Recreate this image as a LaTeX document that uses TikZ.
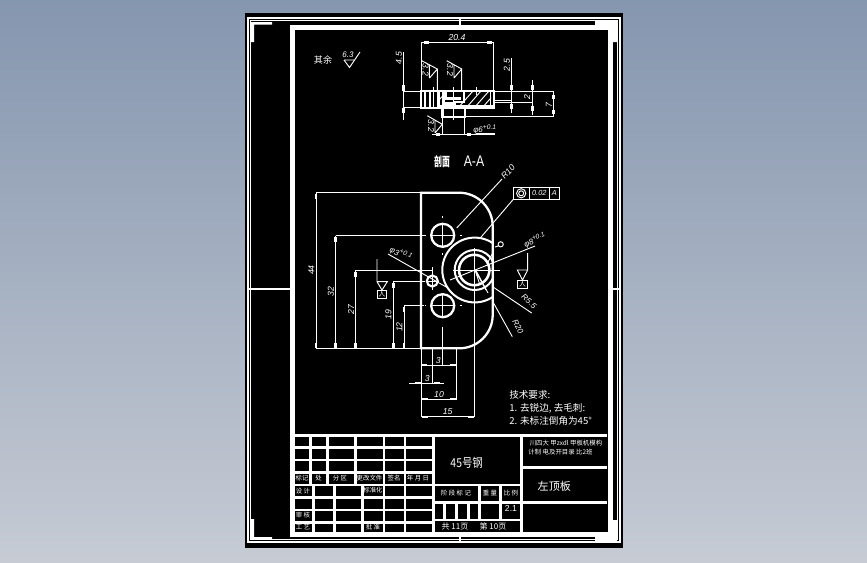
\documentclass[tikz,border=0pt]{standalone}
\usepackage{fontspec}
\setmainfont{Liberation Sans}
\newfontfamily\cjk{Noto Sans CJK SC}
\newcommand{\fs}[1]{\fontsize{#1}{#1}\selectfont}
\definecolor{bgtop}{RGB}{133,150,175}
\definecolor{bgbot}{RGB}{198,203,212}
\tikzset{
  thinl/.style={draw=white,line width=0.7pt},
  med/.style={draw=white,line width=1.1pt},
  thick1/.style={draw=white,line width=1.6pt},
  grid/.style={draw=white,line width=1.9pt},
  dimt/.style={text=white,inner sep=0pt,font=\fs{6.5pt}\itshape},
  titl/.style={text=white,inner sep=0pt,font=\fs{4.8pt}\cjk},
  txt/.style={text=white,inner sep=0pt,font=\fs{7.2pt}\cjk},
}
\begin{document}
\begin{tikzpicture}[x=0.75pt,y=-0.75pt]
\useasboundingbox (0,0) rectangle (867,562);
\shade[top color=bgtop,bottom color=bgbot] (0,0) rectangle (867,562);
% sheet
\fill[black] (245,13) rectangle (623,548);
\draw[draw=white,line width=1.2pt] (248,18) rectangle (620,542);
\draw[draw=white,line width=0.7pt] (250.5,20.5) rectangle (617,539.5);
% centre ticks
\draw[med] (460,18) -- (460,25);
\draw[med] (460,535) -- (460,542);
\draw[draw=white,line width=1.3pt] (248,289) -- (290,289);
\draw[med] (613,289) -- (620,289);
% corner marks
\fill[white] (251,22) rectangle (272,24.5) (251,22) rectangle (254,42);
\fill[white] (595,21) rectangle (617,25) (613,21) rectangle (617,42);
\fill[white] (251,537) rectangle (272,539.5) (251,519) rectangle (254,539.5);
\fill[white] (595,535) rectangle (617,541) (613,520) rectangle (617,541);
% inner frame
\draw[draw=white,line width=3.7pt] (292.5,27.5) rectangle (610.5,534.5);
% ---------- roughness note
\node[txt,font=\fs{6.8pt}\cjk] (qiyu) at (323,60) {其余};
\node[dimt,font=\fs{6pt}\itshape] (r63) at (348,55) {6.3};
\draw[thinl] (344,60) -- (355,60) (344,60) -- (349.5,67.5) -- (360,52);
% ---------- section view
\node[txt,font=\fs{9.5pt}\cjk\bfseries] (pm) at (442,162) {\scalebox{0.62}[1]{剖面}};
\node[text=white,inner sep=0pt,font=\fs{11.5pt}] (aa) at (474,161) {\scalebox{0.8}[1]{A-A}};
\draw[thinl] (403.5,91) -- (553,91) (403.5,107.7) -- (421,107.7) (466,116.7) -- (553,116.7);
\draw[thinl] (495,100) -- (512,100) (495,102.7) -- (532,102.7);
\draw[thinl] (421.7,42.3) -- (421.7,91) (493.3,42.3) -- (493.3,91) (421.7,42.3) -- (493.3,42.3);
\draw[thinl] (403.3,52) -- (403.3,120) (511.7,58) -- (511.7,113) (532.3,80) -- (532.3,115) (553,91) -- (553,116.7);
\draw[thinl] (442.5,116) -- (442.5,134) (464.5,116) -- (464.5,134) (432,134.2) -- (495,134.2);
\foreach \a/\b/\c/\d in {424/40.8/429/43.8,487/40.8/491.5/43.8,401.8/85/404.8/91,401.8/107.7/404.8/113,510.3/85/513.1/90,510.3/104/513.1/109,530.8/85/533.8/90,530.8/106/533.8/111,551.5/95/554.5/99,551.5/110/554.5/114,436/132.7/440/135.7,467/132.7/471/135.7}
  \fill[white] (\a,\b) rectangle (\c,\d);
% section body
\begin{scope}
\clip (438,92) rectangle (491,107);
\foreach \x in {432,440,448,458,466,474,482,490}
  \draw[thinl] (\x,108) -- (\x+15,91);
\end{scope}
\fill[black] (443.5,92) rectangle (463,102);
\draw[thick1] (420.9,91.2) rectangle (494.3,108.3);
\draw[thick1] (425,91.5) -- (425,107.5) (438.5,91.5) -- (438.5,107.5) (443.5,91.5) -- (443.5,104);
\draw[med] (430,91.5) -- (430,107.5) (490.5,91.5) -- (490.5,107.5);
\draw[thick1] (443.5,97) -- (443.5,103.5) -- (455,103.5) -- (455,102) -- (464,102) -- (464,92);
\draw[thick1] (446,92) -- (446,98.5) -- (461,98.5);
\draw[thick1] (442.5,108.3) rectangle (465,116.7);
\draw[thick1] (440,106) -- (494,106);
\draw[thinl] (453.5,87) -- (453.5,120) (433,87) -- (433,108) (476,87) -- (476,95);
\node[dimt] (d204) at (457,38) {20.4};
\node[dimt,rotate=90] (d45) at (399,58) {4.5};
\node[dimt,rotate=90] (d25) at (507,65) {2.5};
\node[dimt,rotate=90] (d2) at (527,97) {2};
\node[dimt,rotate=90] (d7) at (549,105) {7};
\node[dimt,font=\fs{6pt}\itshape] (d6) at (485,129.5) {φ6\textsuperscript{+0.1}};
\draw[thinl] (476,133) -- (495,133);
% roughness on section
\draw[thinl] (421.7,60.7) -- (437.3,69) -- (429.5,78) (429.3,64.5) -- (429.3,78) (437.3,69) -- (437.3,91);
\draw[thinl] (446.7,60.7) -- (461.7,69) -- (454,78) (454,65.5) -- (454,78) (461.7,69) -- (461.7,91) ;
\draw[thinl] (427.3,115.7) -- (442.3,124.3) -- (435,133) (435,120) -- (435,133);
\node[dimt,rotate=-90] (r1) at (425.5,70) {3.2};
\node[dimt,rotate=-90] (r2) at (450,70) {3.2};
\node[dimt,rotate=-90] (r3) at (431,126) {3.2};
% ---------- plan view
\draw[thinl] (316,192.7) -- (421,192.7) (316,348.3) -- (421,348.3) (316,192.7) -- (316,348.3);
\draw[thinl] (335.7,235.7) -- (425,235.7) (335.7,235.7) -- (335.7,348.3);
\draw[thinl] (355.3,270) -- (433,270) (355.3,270) -- (355.3,348.3);
\draw[thinl] (393.7,281.3) -- (425,281.3) (393.7,281.3) -- (393.7,348.3);
\draw[thinl] (404,305.7) -- (424,305.7) (404,305.7) -- (404,348.3);
\foreach \x in {316,335.7,355.3,393.7,404} {\fill[white] (\x-1.3,342.5) rectangle (\x+1.3,347.5);}
\foreach \x/\y in {316/194,335.7/237,355.3/271.5,393.7/283,404/307} {\fill[white] (\x-1.3,\y) rectangle (\x+1.3,\y+5);}
\node[dimt,rotate=90] (d44) at (311.5,270) {44};
\node[dimt,rotate=90] (d32) at (331,291.7) {32};
\node[dimt,rotate=90] (d27) at (351,309.3) {27};
\node[dimt,rotate=90] (d19) at (388.5,314.3) {19};
\node[dimt,rotate=90] (d12) at (399.3,327) {12};
% plate
\draw[draw=white,line width=1.7pt] (421,192.7) -- (459,192.7) .. controls (477.6,192.7) and (492.7,207.8) .. (492.7,226.4) -- (492.7,315) .. controls (492.7,333.4) and (477.6,348.3) .. (459.3,348.3) -- (421,348.3) -- cycle;
% big circles
\begin{scope}
\clip (430,230) rectangle (492.7,310);
\draw[draw=white,line width=1.5pt] (474.7,270) circle[radius=32.4];
\draw[draw=white,line width=1.5pt] (474.7,270) circle[radius=20];
\end{scope}
\draw[draw=white,line width=1.9pt] (474.2,270) circle[radius=15.2];
% holes
\draw[draw=white,line width=1.7pt] (442.7,235.3) circle[radius=11.5];
\draw[draw=white,line width=1.7pt] (442.7,305.7) circle[radius=11.5];
\draw[draw=white,line width=1.6pt] (432.3,281) circle[radius=5.5];
\draw[thinl] (432,235.3) -- (453,235.3) (442.7,225) -- (442.7,246);
\draw[thinl] (432,305.7) -- (453,305.7) (442.7,295) -- (442.7,316);
\draw[thinl] (426,281) -- (439,281) (432.3,267) -- (432.3,290);
\draw[thinl] (442.7,216) -- (442.7,217.5) (442.7,253) -- (442.7,254.5) (425,235.7) -- (426,235.7) (460,235.5) -- (462,235.5) (425,305.7) -- (426,305.7) (460,305.7) -- (462,305.7);
\draw[thinl] (474.7,248) -- (474.7,348) (453,270) -- (500,270);
% leaders
\draw[thinl] (456.7,228) -- (502,179);
\node[dimt,rotate=48] (r10) at (508,172) {R10};
\draw[thinl] (513.3,199.3) -- (480,238.3);
\draw[thinl] (513.3,187.3) rectangle (559.3,199.3) (529.3,187.3) -- (529.3,199.3) (549.3,187.3) -- (549.3,199.3);
\draw[thinl] (521.2,193.3) circle[radius=4.6] (521.2,193.3) circle[radius=2.5];
\node[dimt,font=\fs{5.5pt}\itshape] (tol) at (539.3,193.3) {0.02};
\node[dimt,font=\fs{5.5pt}\itshape] (tolA) at (554.3,193.3) {A};
\draw[thinl] (500.7,244.3) circle[radius=2.6] (498,246) -- (495,247) (492.7,253) -- (488,262);
\draw[thinl] (450,280) -- (535,246);
\node[dimt,font=\fs{6pt}\itshape,rotate=22] (ph8) at (535,240) {φ8\textsuperscript{+0.1}};
\draw[thinl] (388,254) -- (448,288);
\node[dimt,font=\fs{6pt}\itshape,rotate=-25] (ph3) at (401,254) {φ3\textsuperscript{+0.1}};
\draw[thinl] (475.7,270) -- (488,293);
\draw[thinl] (493,287) -- (531.7,313);
\node[dimt,font=\fs{6pt}\itshape,rotate=-42] (r55) at (529,301.5) {R5.5};
\draw[thinl] (493,302) -- (512.3,336.7);
\node[dimt,font=\fs{6pt}\itshape,rotate=-62] (r20) at (518,327) {R20};
\draw[thinl] (475,270) -- (486,290) (475,270) -- (480,285);
% base symbols
\draw[thinl] (527.7,253) -- (527.7,270) -- (517.3,270) -- (522.5,280) -- (527.7,270);
\draw[thinl] (517.3,280) rectangle (527.7,288.5);
\node[text=white,inner sep=0pt,font=\fs{5pt}\cjk] (bs1) at (522.5,284.3) {人};
\draw[thinl] (377,259) -- (377,281.7) -- (387.3,281.7) -- (382,290) -- (377,281.7);
\draw[thinl] (377.3,290) rectangle (386.7,298.3);
\node[text=white,inner sep=0pt,font=\fs{5pt}\cjk] (bs2) at (382,294.2) {人};
% bottom dims
\draw[thinl] (421,348) -- (421,417) (432.3,348) -- (432.3,383.5) (442.7,327) -- (442.7,365) (456.7,348) -- (456.7,399.5) (474.7,348) -- (474.7,417);
\draw[thinl] (421,365) -- (457,365);
\draw[thinl] (409,383.3) -- (444,383.3) (421,399.4) -- (456.7,399.4) (421,416.7) -- (474.7,416.7);
\foreach \a/\b in {421/365,450/365,415/383.3,434/383.3,422/399.4,450/399.4,422/416.7,468/416.7}
  \fill[white] (\a,\b-1) rectangle (\a+5.5,\b+1);
\node[dimt] (b3a) at (438.3,361) {3};
\node[dimt] (b3b) at (427.3,379) {3};
\node[dimt] (b10) at (439,395) {10};
\node[dimt] (b15) at (447.7,411.5) {15};
% tech text
\node[txt,anchor=west] (t1) at (509,395) {技术要求:};
\node[txt,anchor=west] (t2) at (509,408.3) {1. 去锐边, 去毛刺:};
\node[txt,anchor=west] (t3) at (509,420.7) {2. 未标注倒角为45°};
% ---------- title block
\draw[draw=white,line width=2.6pt] (295,435.3) -- (607,435.3);
\draw[grid] (295,447.7) -- (433.3,447.7) (295,460) -- (433.3,460) (295,472.7) -- (433.3,472.7) (295,497.3) -- (433.3,497.3) (295,510) -- (433.3,510) (295,522.3) -- (433.3,522.3);
\draw[draw=white,line width=2.2pt] (295,485) -- (521.7,485);
\foreach \x in {310.3,327.7,355.7,384,405} \draw[grid] (\x,435.3) -- (\x,485);
\foreach \x in {313.3,334.3,362.7,384,405} \draw[grid] (\x,485) -- (\x,535);
\draw[draw=white,line width=2.4pt] (433.3,435.3) -- (433.3,535) (521.7,435.3) -- (521.7,535);
\draw[grid] (433.3,502.3) -- (521.7,502.3) (433.3,520) -- (521.7,520);
\draw[draw=white,line width=2.4pt] (521.7,467.3) -- (607,467.3) (521.7,502.7) -- (607,502.7);
\foreach \x in {479.3,500.7} \draw[grid] (\x,485) -- (\x,520);
\foreach \x in {444.3,456.7,468.3} \draw[grid] (\x,502.3) -- (\x,520);
\node[txt,font=\fs{9.2pt}\cjk] (mat) at (466.7,463.3) {\scalebox{0.85}[1]{45号钢}};
\node[txt,font=\fs{8.3pt}\cjk] (name) at (554.3,486) {左顶板};
\node[titl] (s1) at (566,443.5) {川四大 甲zxdl 甲板机模构};
\node[titl] (s2) at (560.5,452) {计制 电及开目录 比2班};
\node[titl] (a1) at (302,477.7) {标记};
\node[titl] (a2) at (318.5,477.7) {处};
\node[titl] (a3) at (340,477.7) {分 区};
\node[titl] (a4) at (369.5,477.7) {更改文件};
\node[titl] (a5) at (394,477.7) {签名};
\node[titl] (a6) at (418,477.7) {年 月 日};
\node[titl] (a7) at (303,490.7) {设 计};
\node[titl] (a8) at (373,490.5) {标准化};
\node[titl] (a9) at (303,515) {审 核};
\node[titl] (a10) at (303,527.3) {工 艺};
\node[titl] (a11) at (373,527.3) {批 准};
\node[titl] (m1) at (456,492.7) {阶 段 标 记};
\node[titl] (m2) at (490,492.7) {重 量};
\node[titl] (m3) at (511,492.7) {比 例};
\node[text=white,inner sep=0pt,font=\fs{6.5pt}] (scale) at (511,508.7) {2.1};
\node[text=white,inner sep=0pt,font=\fs{6pt}\cjk] (p1) at (455,526.3) {共 11页};
\node[text=white,inner sep=0pt,font=\fs{6pt}\cjk] (p2) at (493,526.3) {第 10页};
\end{tikzpicture}
\end{document}
